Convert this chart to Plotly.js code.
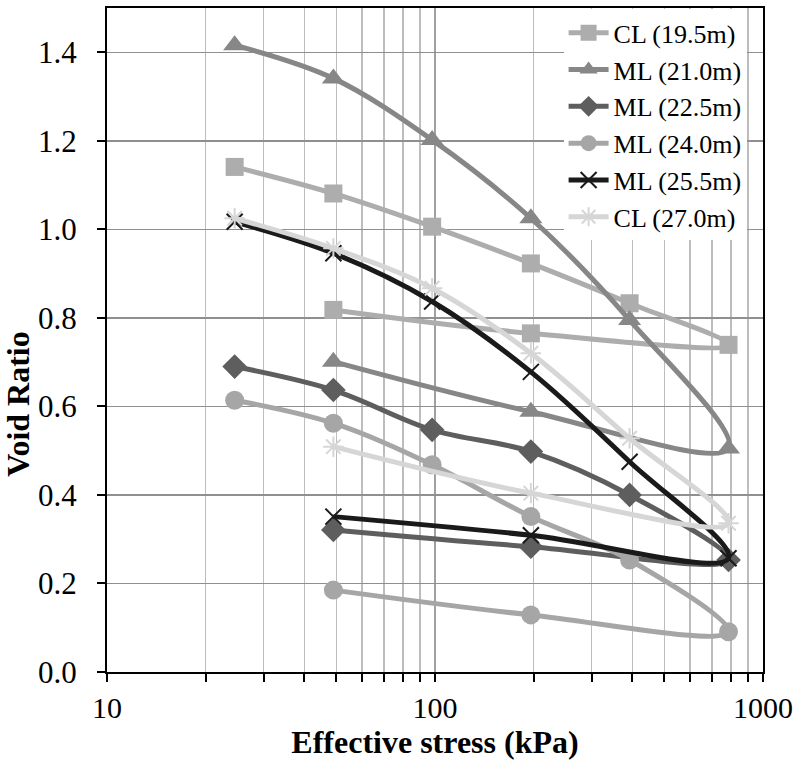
<!DOCTYPE html>
<html>
<head>
<meta charset="utf-8">
<script src="https://cdn.plot.ly/plotly-3.0.1.min.js"></script>
<style>html,body{margin:0;padding:0;background:#fff;}#chart{width:798px;height:760px;}</style>
</head>
<body>
<div id="chart"></div>
<script>
// Effective stress (kPa): loading 24.5 → 785, then unloading 196, 49
const stress = [24.5, 49, 98, 196, 392, 785, 196, 49];

const seriesNames = ["CL (19.5m)", "ML (21.0m)", "ML (22.5m)", "ML (24.0m)", "ML (25.5m)", "CL (27.0m)"];

const cl195 = [1.141, 1.081, 1.006, 0.923, 0.833, 0.739, 0.765, 0.818];
const ml210 = [1.416, 1.341, 1.202, 1.025, 0.795, 0.505, 0.588, 0.701];
const ml225 = [0.690, 0.637, 0.547, 0.498, 0.400, 0.253, 0.283, 0.321];
const ml240 = [0.614, 0.562, 0.468, 0.351, 0.253, 0.091, 0.129, 0.185];
const ml255 = [1.017, 0.946, 0.837, 0.678, 0.475, 0.257, 0.309, 0.351];
const cl270 = [1.025, 0.957, 0.867, 0.720, 0.528, 0.336, 0.404, 0.509];

const seriesValues = [cl195, ml210, ml225, ml240, ml255, cl270];

const xTickVals = [10, 100, 1000];
const xTickText = ["10", "100", "1000"];
const yTickVals = [0, 0.2, 0.4, 0.6, 0.8, 1.0, 1.2, 1.4];
const yTickText = ["0.0", "0.2", "0.4", "0.6", "0.8", "1.0", "1.2", "1.4"];

const styles = [
  {color: "#adadad", symbol: "square", size: 18, lw: 0},
  {color: "#878787", symbol: "triangle-up", size: 20, lw: 0},
  {color: "#5e5e5e", symbol: "diamond", size: 19, lw: 0},
  {color: "#a6a6a6", symbol: "circle", size: 19, lw: 0},
  {color: "#1a1a1a", symbol: "x-thin-open", size: 16, lw: 2},
  {color: "#d6d6d6", symbol: "asterisk-open", size: 17, lw: 2}
];

const traces = seriesNames.map((name, i) => ({
  type: "scatter",
  mode: "lines+markers",
  name: name,
  x: stress,
  y: seriesValues[i],
  line: {color: styles[i].color, width: 5, shape: "spline", smoothing: 1},
  marker: {
    symbol: styles[i].symbol,
    size: styles[i].size,
    color: styles[i].color,
    line: {color: styles[i].color, width: styles[i].lw}
  }
}));

const font = "Liberation Serif, Times New Roman, serif";

const layout = {
  width: 798,
  height: 760,
  margin: {l: 107, r: 35, t: 8, b: 88},
  paper_bgcolor: "#ffffff",
  plot_bgcolor: "#ffffff",
  font: {family: font, color: "#000000", size: 30},
  showlegend: true,
  legend: {
    x: 0.975, y: 0.998, xanchor: "right", yanchor: "top",
    bgcolor: "#ffffff", borderwidth: 0,
    font: {family: font, size: 26, color: "#000000"},
    tracegroupgap: 0, itemwidth: 40
  },
  xaxis: {
    type: "log",
    range: [1, 3],
    tickmode: "array",
    tickvals: xTickVals,
    ticktext: xTickText,
    ticks: "outside",
    ticklen: 8,
    tickwidth: 2,
    tickcolor: "#000000",
    showline: true,
    linecolor: "#000000",
    linewidth: 2,
    mirror: true,
    showgrid: true,
    gridcolor: "#a0a0a0",
    gridwidth: 1.5,
    zeroline: false,
    tickfont: {family: font, size: 30, color: "#000000"},
    minor: {
      dtick: "D1",
      ticks: "outside",
      ticklen: 8,
      tickwidth: 2,
      tickcolor: "#000000",
      showgrid: true,
      gridcolor: "#bdbdbd",
      gridwidth: 1.5
    },
    title: {text: "<b>Effective stress (kPa)</b>", font: {family: font, size: 32, color: "#000000"}, standoff: 2}
  },
  yaxis: {
    range: [0, 1.5],
    tickmode: "array",
    tickvals: yTickVals,
    ticktext: yTickText,
    ticks: "outside",
    ticklen: 8,
    tickwidth: 2,
    tickcolor: "#000000",
    ticklabelstandoff: 14,
    showline: true,
    linecolor: "#000000",
    linewidth: 2,
    mirror: true,
    showgrid: true,
    gridcolor: "#8f8f8f",
    gridwidth: 1.5,
    zeroline: false,
    tickfont: {family: font, size: 31, color: "#000000"},
    title: {text: "<b>Void Ratio</b>" + "&nbsp;".repeat(16), font: {family: font, size: 32, color: "#000000"}, standoff: 0}
  }
};

Plotly.newPlot("chart", traces, layout, {displayModeBar: false, staticPlot: true});
</script>
</body>
</html>
